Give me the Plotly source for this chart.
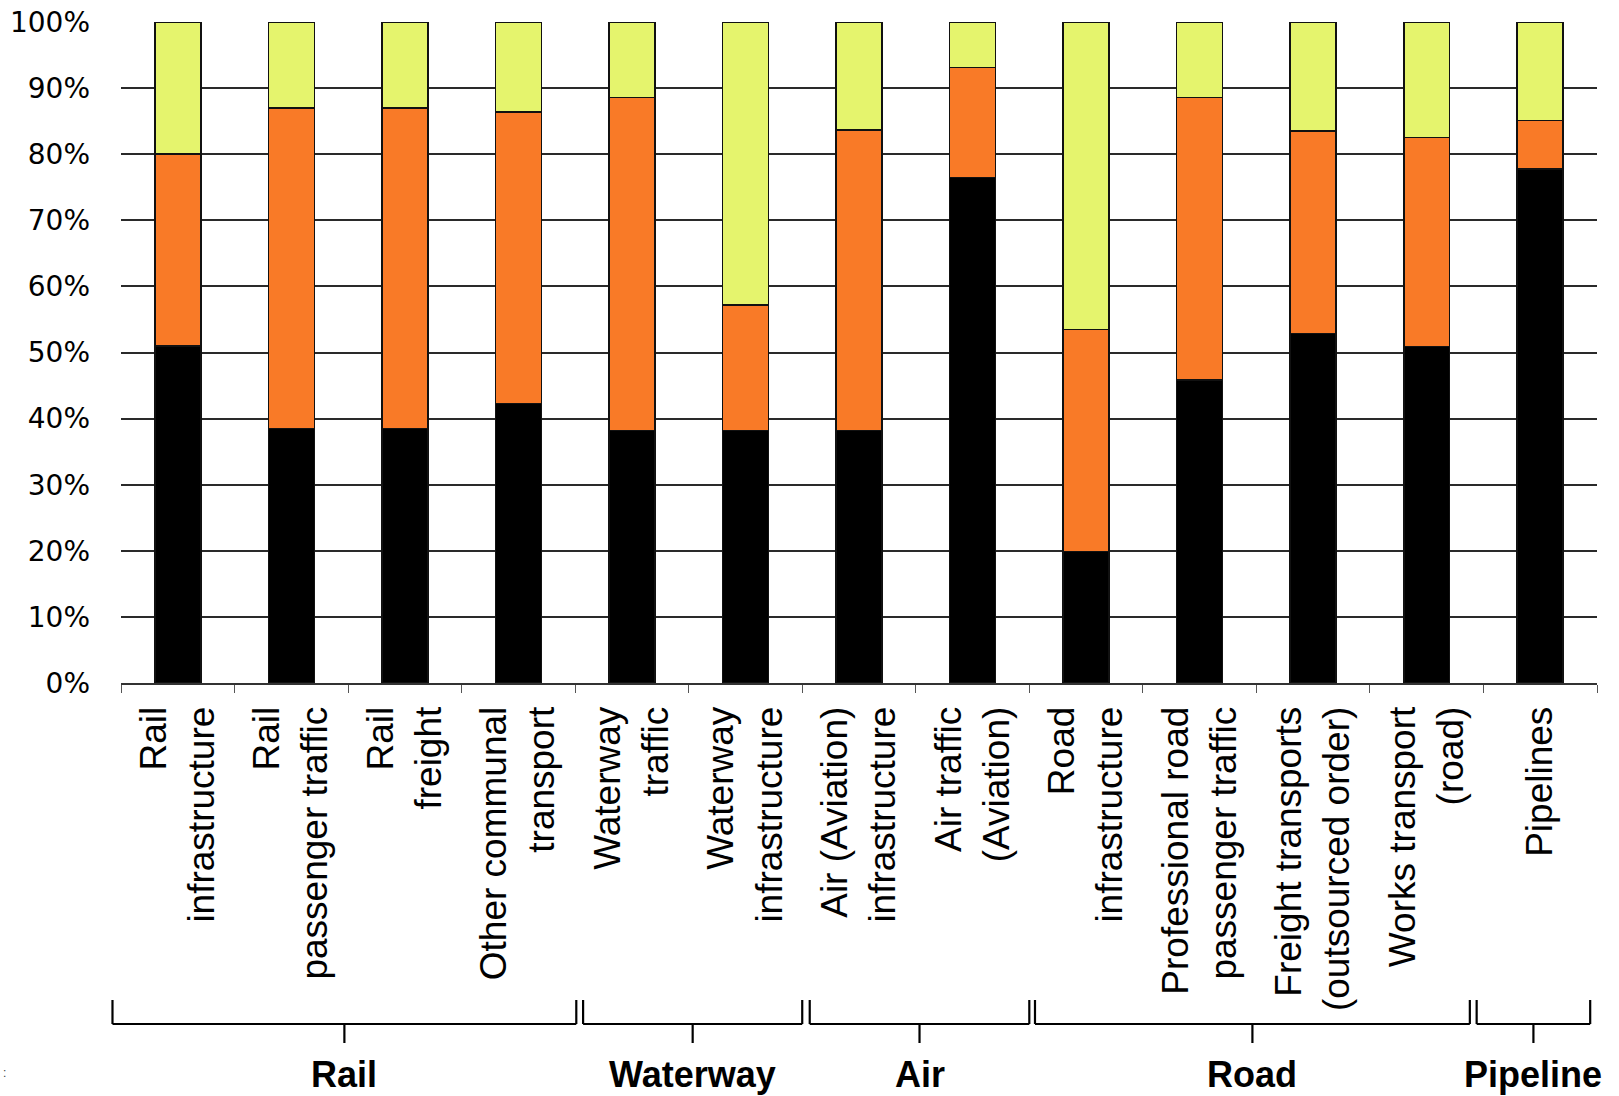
import plotly.graph_objects as go

categories = [
    "Rail<br>infrastructure",
    "Rail<br>passenger traffic",
    "Rail<br>freight",
    "Other communal<br>transport",
    "Waterway<br>traffic",
    "Waterway<br>infrastructure",
    "Air (Aviation)<br>infrastructure",
    "Air traffic<br>(Aviation)",
    "Road<br>infrastructure",
    "Professional road<br>passenger traffic",
    "Freight transports<br>(outsourced order)",
    "Works transport<br>(road)",
    "Pipelines",
]

black_share = [51.0, 38.5, 38.5, 42.3, 38.2, 38.2, 38.2, 76.5, 19.9, 45.8, 52.9, 50.9, 77.8]
orange_share = [29.0, 48.5, 48.5, 44.1, 50.4, 19.0, 45.5, 16.6, 33.6, 42.8, 30.6, 31.6, 7.3]
yellow_share = [20.0, 13.0, 13.0, 13.6, 11.4, 42.8, 16.3, 6.9, 46.5, 11.4, 16.5, 17.5, 14.9]

y_ticks = [0, 10, 20, 30, 40, 50, 60, 70, 80, 90, 100]
y_tick_labels = ["0%", "10%", "20%", "30%", "40%", "50%", "60%", "70%", "80%", "90%", "100%"]

# group name, first index, last index, bracket left extension / right trim (category units)
groups = [
    ("Rail", 0, 3, -0.075, -0.01),
    ("Waterway", 4, 5, 0.07, 0.0),
    ("Air", 6, 7, 0.066, 0.0),
    ("Road", 8, 11, 0.05, 0.12),
    ("Pipeline", 12, 12, -0.06, 0.06),
]

W, H = 1619, 1096
ML, MR, MT, MB = 121, 22, 22, 413
n = len(categories)

fig = go.Figure()
for vals, col in [(black_share, "#000000"), (orange_share, "#F97A27"), (yellow_share, "#E5F46D")]:
    fig.add_trace(go.Bar(
        x=categories, y=vals, marker=dict(color=col, line=dict(color="#111111", width=1.6)),
        showlegend=False,
    ))

fig.update_layout(
    barmode="stack",
    bargap=0.595,
    width=W, height=H, autosize=False,
    margin=dict(l=ML, r=MR, t=MT, b=MB, pad=0),
    plot_bgcolor="white", paper_bgcolor="white",
    xaxis=dict(
        automargin=False,
        tickangle=-90,
        tickfont=dict(family="Liberation Sans, Arial", size=37, color="#000000"),
        showline=True, linecolor="#333333", linewidth=1.8,
        ticks="outside", tickson="boundaries", ticklen=8, tickcolor="#555555", tickwidth=1.2,
        ticklabelstandoff=7,
        showgrid=False,
    ),
    yaxis=dict(
        automargin=False,
        range=[0, 100],
        tickmode="array",
        tickvals=y_ticks,
        ticktext=y_tick_labels,
        tickfont=dict(family="DejaVu Sans", size=28, color="#000000"),
        showgrid=True, gridcolor="#2a2a2a", gridwidth=2,
        showline=False, zeroline=False,
        ticks="", ticklabelstandoff=30,
    ),
)

ph = H - MT - MB
def py(pix):
    return (H - MB - pix) / ph

y_top = py(1000)
y_line = py(1024)
y_tick = py(1043)
y_text = py(1074)

def px(v):
    return (v + 0.5) / n

for name, a, b, tl, tr in groups:
    x0 = px(a - 0.5 + tl)
    x1 = px(b + 0.5 - tr)
    xc = (x0 + x1) / 2
    line = dict(color="#000000", width=2.2)
    for (xa, ya, xb, yb) in [(x0, y_top, x0, y_line), (x0, y_line, x1, y_line),
                             (x1, y_line, x1, y_top), (xc, y_line, xc, y_tick)]:
        fig.add_shape(type="line", xref="paper", yref="paper",
                      x0=xa, y0=ya, x1=xb, y1=yb, line=line)
    fig.add_annotation(x=xc, y=y_text, xref="paper", yref="paper", text="<b>%s</b>" % name,
                       showarrow=False, font=dict(family="Liberation Sans, Arial", size=36, color="#000000"),
                       xanchor="center", yanchor="middle")

fig.add_annotation(x=-ML / (W - ML - MR) + 0.001, y=py(1073), xref="paper", yref="paper", text=":",
                   showarrow=False, font=dict(family="Liberation Sans", size=12, color="#444444"),
                   xanchor="left", yanchor="middle")

fig.write_html("out.html", config={"displayModeBar": False},
               post_script="document.body.style.margin='0';")
